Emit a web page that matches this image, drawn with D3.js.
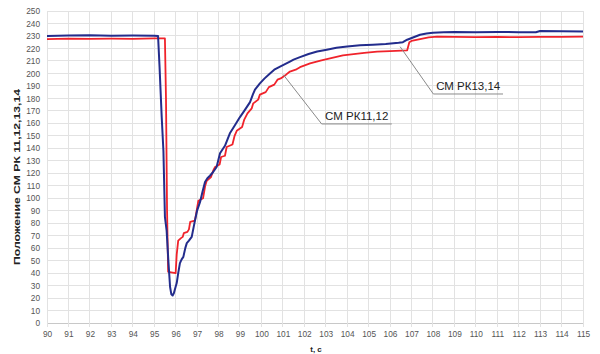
<!DOCTYPE html>
<html><head><meta charset="utf-8">
<script src="https://cdn.jsdelivr.net/npm/d3@7"></script>
<style>body{margin:0;background:#fff}svg{display:block}text{font-family:"Liberation Sans",Arial,sans-serif}</style>
</head><body><div id="chart"></div>
<script>
// time, s
const xTicks = d3.range(90, 116, 1);
const yTicks = d3.range(0, 251, 10);
const seriesNames = ["СМ РК11,12", "СМ РК13,14"];
const seriesColors = ["#f0232b", "#232c8c"];

const blueT = [90,91,92,93,94,95,95.18,95.25,95.35,95.43,95.5,95.58,95.66,95.74,95.8,95.86,95.92,96.0,96.05,96.12,96.2,96.28,96.36,96.45,96.52,96.62,96.75,96.9,97.0,97.14,97.25,97.37,97.48,97.6,97.75,97.91,98.07,98.3,98.53,98.75,99.0,99.2,99.47,99.6,99.7,99.93,100.15,100.4,100.6,100.87,101.1,101.33,101.5,101.8,102.2,102.6,103.05,103.5,104,104.6,105.2,105.8,106.4,106.6,106.8,107.1,107.4,107.7,108,108.5,109,110,111,112,112.8,113,114,115];
const blueV = [230,230.3,230.5,230.2,230.3,230.2,230,205,165,138,85,74,50,29,23,22,24,29,32,40,48,51,53,60,64,66,69,82,90,97,105,113,116,118,121,125,136,142,152,158,165,170,177,183,187,192,196,200,203,205.5,207.5,209.5,211,213,215.5,217.5,219,220.5,221.5,222.5,223,223.5,224.5,225,227,229,231,232,232.6,233,233.2,233,233.2,233,233,234,233.8,233.6];

const redT = [90,91,92,93,94,95,95.5,95.55,95.6,95.65,96.0,96.05,96.12,96.25,96.33,96.38,96.55,96.62,96.68,96.9,96.98,97.06,97.28,97.38,97.45,97.65,97.75,97.84,98.05,98.12,98.3,98.38,98.65,98.75,98.85,99.1,99.2,99.35,99.55,99.62,99.85,99.93,100.2,100.35,100.6,100.75,100.9,101.15,101.33,101.6,101.8,102.27,102.8,103.3,103.8,104.3,104.8,105.4,106,106.8,106.9,107.0,107.4,107.8,108.2,109,110,111,112,113,114,115];
const redV = [227.5,227.8,227.6,227.8,227.7,228,228,180,90,41,40,55,66,68,69,72,73,75,81,82,90,98,100,110,114,117,122,125,127,133,134,141,143,150,154,157,163,168,172,176,179,183,185,189,191,195,196,199,201.5,203,205,208,210.5,212.5,214.5,215.5,216.5,217.4,217.8,218.5,225,226,227.5,228.8,229.4,229.2,229,229.2,229,229.3,229.2,229.5];

// annotations: anchor on curve, elbow, end of underline (data units)
const annoLabels = ["СМ РК11,12", "СМ РК13,14"];
const annoAnchor = [[101.02, 199], [106.47, 221.4]];
const annoElbow = [[102.81, 159.5], [108.02, 183.5]];
const annoEnd = [106.08, 111.27];

const W = 600, H = 354;
const m = {l: 47, r: 17, t: 11, b: 31};
const svg = d3.select("#chart").append("svg").attr("width", W).attr("height", H);
const x = d3.scaleLinear().domain([90, 115]).range([m.l, W - m.r]);
const y = d3.scaleLinear().domain([0, 250]).range([H - m.b, m.t]);

// grid
svg.append("g").selectAll("line").data(yTicks).join("line")
  .attr("x1", x(90)).attr("x2", x(115)).attr("y1", d => y(d)).attr("y2", d => y(d))
  .attr("stroke", d => d === 0 ? "#c8c8c8" : "#e2e2e2").attr("stroke-width", 1).attr("shape-rendering", "crispEdges");
svg.append("g").selectAll("line").data(xTicks).join("line")
  .attr("x1", d => x(d)).attr("x2", d => x(d)).attr("y1", y(250)).attr("y2", y(0) + 4)
  .attr("stroke", "#e2e2e2").attr("stroke-width", 1).attr("shape-rendering", "crispEdges");

// axes labels via d3 axes
const yAxis = svg.append("g").attr("transform", `translate(${x(90) - 5},0)`)
  .call(d3.axisLeft(y).tickValues(yTicks).tickSize(0).tickPadding(2));
yAxis.select(".domain").remove();
yAxis.selectAll("text").attr("font-size", 8.3).attr("fill", "#555").attr("font-family", "Liberation Sans, Arial, sans-serif");

const xAxis = svg.append("g").attr("transform", `translate(0,${y(0) + 5})`)
  .call(d3.axisBottom(x).tickValues(xTicks).tickSize(0).tickPadding(3).tickFormat(d3.format("d")));
xAxis.select(".domain").remove();
xAxis.selectAll("text").attr("font-size", 8.3).attr("fill", "#555").attr("font-family", "Liberation Sans, Arial, sans-serif");

// titles
svg.append("text").attr("x", 316).attr("y", 352).attr("text-anchor", "middle")
  .attr("font-size", 8).attr("font-weight", "bold").attr("fill", "#222").text("t, c");
svg.append("text").attr("transform", `translate(20,177) rotate(-90)`).attr("text-anchor", "middle")
  .attr("font-size", 8.5).attr("font-weight", "bold").attr("fill", "#222")
  .attr("textLength", 176).attr("lengthAdjust", "spacingAndGlyphs").text("Положение СМ РК 11,12,13,14");

// lines
const line = d3.line().x(d => x(d[0])).y(d => y(d[1]));
const redData = redT.map((t, i) => [t, redV[i]]);
const blueData = blueT.map((t, i) => [t, blueV[i]]);
svg.append("path").datum(redData).attr("d", line).attr("fill", "none")
  .attr("stroke", seriesColors[0]).attr("stroke-width", 1.8).attr("stroke-linejoin", "round");
svg.append("path").datum(blueData).attr("d", line).attr("fill", "none")
  .attr("stroke", seriesColors[1]).attr("stroke-width", 2).attr("stroke-linejoin", "round");

// annotations
annoLabels.forEach((lab, i) => {
  const pts = [annoAnchor[i], annoElbow[i], [annoEnd[i], annoElbow[i][1]]];
  svg.append("path").datum(pts).attr("d", line).attr("fill", "none")
    .attr("stroke", "#8a8a8a").attr("stroke-width", 1);
  svg.append("text").attr("x", (x(annoElbow[i][0]) + x(annoEnd[i])) / 2)
    .attr("y", y(annoElbow[i][1]) - 4).attr("text-anchor", "middle")
    .attr("font-size", 11.5).attr("fill", "#222").text(lab);
});
</script></body></html>
